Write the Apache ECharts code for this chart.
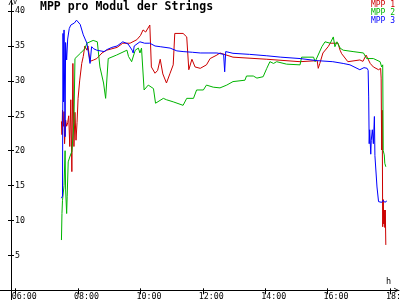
<!DOCTYPE html>
<html><head><meta charset="utf-8">
<script src="https://cdn.jsdelivr.net/npm/echarts@6/dist/echarts.min.js"></script>
<style>html,body{margin:0;padding:0;background:#fff}#c{width:400px;height:300px}</style>
</head><body><div id="c"></div>
<script>
const tickHours = [6, 8, 10, 12, 14, 16, 18];
const yTicks = [5, 10, 15, 20, 25, 30, 35, 40];
const seriesNames = ['MPP 1', 'MPP 2', 'MPP 3'];
const seriesColors = ['#cc0000', '#00b400', '#0000ff'];

const mpp1 = [["07:28",24.2],["07:29",22.3],["07:30",25.8],["07:32",23.5],["07:33",25.6],["07:34",21.0],["07:36",24.4],["07:38",23.5],["07:40",24.0],["07:42",25.0],["07:44",20.6],["07:46",27.3],["07:48",17.0],["07:50",32.5],["07:52",20.6],["07:54",25.5],["07:56",21.5],["07:58",24.0],["08:00",27.5],["08:03",30.0],["08:07",32.5],["08:10",33.5],["08:13",35.0],["08:17",34.4],["08:19",35.0],["08:23",32.8],["08:30",33.0],["08:36",33.2],["08:46",34.0],["08:55",34.4],["09:15",34.8],["09:26",35.4],["09:40",35.4],["09:53",35.9],["10:00",36.5],["10:05",37.3],["10:10",37.0],["10:18",38.0],["10:21",32.0],["10:28",31.1],["10:33",31.5],["10:38",33.1],["10:43",31.0],["10:50",29.7],["10:57",31.1],["11:03",32.3],["11:06",36.8],["11:22",36.8],["11:29",36.3],["11:33",31.6],["11:39",33.1],["11:45",32.0],["11:55",31.8],["12:07",32.3],["12:14",33.2],["12:27",33.7],["12:33",34.0],["12:58",33.4],["14:03",33.1],["15:07",32.75],["15:40",32.9],["15:42",31.8],["15:45",32.5],["15:51",34.0],["16:01",34.9],["16:05",35.4],["16:08",35.6],["16:20",35.4],["16:24",34.4],["16:27",33.9],["16:39",32.75],["17:02",33.0],["17:08",32.8],["17:14",33.7],["17:22",32.5],["17:28",32.0],["17:38",31.6],["17:42",31.8],["17:43",30.4],["17:44",20.1],["17:45",25.8],["17:46",9.1],["17:47",13.0],["17:48",9.5],["17:49",11.5],["17:50",9.0],["17:51",11.5],["17:52",6.5]];

const mpp2 = [["07:28",7.2],["07:29",11.0],["07:30",12.9],["07:33",15.0],["07:35",20.0],["07:36",14.5],["07:38",11.0],["07:39",13.4],["07:41",18.4],["07:44",19.1],["07:48",19.9],["07:52",24.0],["07:54",33.2],["07:57",33.2],["08:05",34.0],["08:13",34.6],["08:17",35.4],["08:29",35.8],["08:37",35.6],["08:42",32.0],["08:49",29.7],["08:53",27.5],["08:58",33.2],["09:14",33.7],["09:34",34.4],["09:37",33.5],["09:43",32.75],["09:50",34.4],["09:56",34.7],["09:59",34.0],["10:02",34.7],["10:07",28.7],["10:15",29.4],["10:25",28.9],["10:29",26.8],["10:44",27.5],["10:50",27.3],["11:03",27.0],["11:22",26.5],["11:29",27.5],["11:42",27.5],["11:48",28.7],["12:01",28.7],["12:07",29.4],["12:20",29.1],["12:33",29.0],["12:46",29.4],["12:58",29.9],["13:21",30.1],["13:24",30.7],["13:37",30.7],["13:44",30.4],["13:56",30.6],["14:03",31.8],["14:09",32.75],["14:16",32.5],["14:22",32.75],["14:41",32.4],["15:07",32.3],["15:10",33.4],["15:33",33.4],["15:36",32.75],["15:39",32.5],["15:49",34.9],["15:55",35.6],["16:05",35.4],["16:11",36.3],["16:14",34.9],["16:18",35.6],["16:24",34.7],["16:30",34.4],["16:49",34.2],["17:09",34.0],["17:15",33.2],["17:28",33.2],["17:41",32.75],["17:44",32.0],["17:46",32.3],["17:47",20.0],["17:49",19.4],["17:50",18.2],["17:52",17.7]];

const mpp3 = [["07:28",13.2],["07:30",13.5],["07:31",36.8],["07:32",27.0],["07:33",37.3],["07:35",22.0],["07:36",35.5],["07:38",33.0],["07:40",36.0],["07:43",37.5],["07:46",38.0],["07:53",38.3],["07:57",38.7],["08:04",38.1],["08:10",36.6],["08:17",35.4],["08:20",34.0],["08:23",32.5],["08:26",34.9],["08:30",34.6],["08:36",34.4],["08:50",34.2],["08:56",34.5],["09:05",34.8],["09:15",35.0],["09:26",35.6],["09:36",35.3],["09:44",34.4],["09:46",34.0],["09:48",35.0],["09:59",35.6],["10:08",35.4],["10:18",35.4],["10:28",35.0],["10:38",34.9],["10:57",34.7],["11:10",34.3],["11:22",34.2],["11:40",34.1],["11:55",34.0],["12:10",34.0],["12:27",34.0],["12:40",33.8],["12:42",31.3],["12:44",34.2],["12:58",33.95],["13:30",33.8],["14:03",33.6],["14:30",33.4],["15:07",33.2],["15:40",32.9],["16:10",32.75],["16:30",32.5],["16:43",32.3],["17:02",31.6],["17:10",31.9],["17:16",31.8],["17:18",31.5],["17:19",27.7],["17:20",21.0],["17:21",23.0],["17:23",19.5],["17:24",21.5],["17:26",23.0],["17:28",21.0],["17:30",24.9],["17:31",19.3],["17:35",14.8],["17:38",12.7],["17:44",12.6],["17:47",12.9],["17:50",12.6],["17:54",12.8]];

function toH(t) { const p = t.split(':'); return +p[0] + (+p[1]) / 60; }
function pts(a) { return a.map(d => [toH(d[0]), d[1]]); }

const MONO = "'DejaVu Sans Mono', 'Liberation Mono', monospace";
const X_MIN = 5.4966, X_MAX = 18.289;
const Y_MIN = -1.39, Y_MAX = 41.59;
const chevron = 'path://M0,10L5,0L10,10L8.4,10L5,3.2L1.6,10Z';
const fmtHour = v => (v < 10 ? '0' : '') + Math.round(v) + ':00';

const chart = echarts.init(document.getElementById('c'), null, { renderer: 'canvas' });
chart.setOption({
  animation: false,
  backgroundColor: '#ffffff',
  title: {
    text: 'MPP pro Modul der Strings',
    left: 40, top: 1, padding: 0,
    textStyle: { fontFamily: MONO, fontWeight: 'bold', fontSize: 11.5, color: '#000', lineHeight: 12 }
  },
  legend: {
    orient: 'vertical', right: 0, top: 0.5, padding: 0,
    align: 'right', icon: 'none', itemWidth: 0, itemHeight: 0, itemGap: 0,
    selectedMode: false,
    textStyle: { fontFamily: MONO, fontSize: 8, lineHeight: 7.5 },
    data: seriesNames.map((n, i) => ({ name: n, textStyle: { color: seriesColors[i] } }))
  },
  grid: { left: 0, right: 1, top: 0, bottom: 0, containLabel: false, outerBoundsMode: 'none' },
  xAxis: [{
    type: 'value', min: X_MIN, max: X_MAX, position: 'bottom',
    name: 'h', nameLocation: 'end', nameGap: -13,
    nameTextStyle: { fontFamily: MONO, fontSize: 8.5, color: '#000', align: 'left', verticalAlign: 'bottom', lineHeight: 18 },
    axisLine: { show: true, onZero: true, symbol: ['none', chevron], symbolSize: [6, 5], symbolOffset: [0, -2.5], lineStyle: { color: '#000', width: 1 } },
    axisTick: { show: true, length: 4, customValues: tickHours, lineStyle: { color: '#000' } },
    axisLabel: {
      show: true, customValues: tickHours, margin: -7, align: 'left', padding: [0, 0, 0, -4], hideOverlap: false,
      showMinLabel: true, showMaxLabel: true,
      fontFamily: MONO, fontSize: 8.3, color: '#000',
      formatter: fmtHour
    },
    splitLine: { show: false }
  }, {
    type: 'value', min: X_MIN, max: X_MAX, position: 'bottom',
    axisLine: { show: true, onZero: true, lineStyle: { opacity: 0 } },
    axisTick: { show: true, inside: true, length: 2, customValues: tickHours, lineStyle: { color: '#000' } },
    axisLabel: { show: false }, splitLine: { show: false }
  }],
  yAxis: [{
    type: 'value', min: Y_MIN, max: Y_MAX, position: 'left', offset: -11,
    name: 'V', nameLocation: 'end', nameGap: -6,
    nameTextStyle: { fontFamily: MONO, fontSize: 7, color: '#000', align: 'left', padding: [0, 0, 0, 2] },
    axisLine: { show: true, onZero: false, symbol: ['none', chevron], symbolSize: [6, 5], symbolOffset: [0, -2.5], lineStyle: { color: '#000', width: 1 } },
    axisTick: { show: true, length: 3, customValues: yTicks, lineStyle: { color: '#000' } },
    axisLabel: { show: true, inside: true, margin: 4, customValues: yTicks, fontFamily: MONO, fontSize: 8.3, color: '#000' },
    splitLine: { show: false }
  }, {
    type: 'value', min: Y_MIN, max: Y_MAX, position: 'left', offset: -11,
    axisLine: { show: true, onZero: false, lineStyle: { opacity: 0 } },
    axisTick: { show: true, inside: true, length: 3, customValues: yTicks, lineStyle: { color: '#000' } },
    axisLabel: { show: false }, splitLine: { show: false }
  }],
  series: [mpp1, mpp2, mpp3].map((d, i) => ({
    name: seriesNames[i], type: 'line', xAxisIndex: 0, yAxisIndex: 0,
    data: pts(d), showSymbol: false, symbol: 'none',
    lineStyle: { color: seriesColors[i], width: 1 }, itemStyle: { color: seriesColors[i] },
    emphasis: { disabled: true }, clip: false
  }))
});
</script></body></html>
